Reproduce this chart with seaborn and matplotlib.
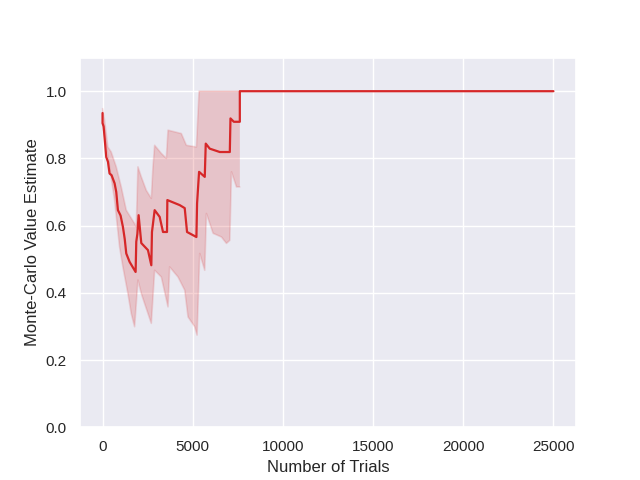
import numpy as np
import matplotlib
matplotlib.use('Agg')
import matplotlib.pyplot as plt
import seaborn as sns

# running Monte-Carlo estimate
trials = [0, 0, 60, 205, 300, 389, 500, 667, 760, 852, 1000, 1130, 1230, 1315, 1500,
          1833, 1870, 1930, 2000, 2148, 2518, 2704, 2740, 2889, 3167, 3352, 3574, 3593,
          4278, 4556, 4685, 5204, 5241, 5352, 5667, 5722, 5944, 6500, 7056, 7093, 7278,
          7611, 7611, 25000]
estimate = [0.935, 0.905, 0.895, 0.804, 0.790, 0.755, 0.750, 0.726, 0.700, 0.646, 0.630,
            0.596, 0.560, 0.517, 0.492, 0.462, 0.552, 0.575, 0.631, 0.548, 0.527, 0.482,
            0.581, 0.646, 0.626, 0.581, 0.581, 0.676, 0.661, 0.652, 0.581, 0.566, 0.666,
            0.760, 0.745, 0.844, 0.829, 0.819, 0.819, 0.919, 0.909, 0.909, 1.0, 1.0]

# upper edge of the band
up_x = [0, 111, 296, 481, 759, 1037, 1315, 1778, 1870, 1963, 2148, 2426, 2704, 2796,
        2889, 3259, 3537, 3630, 4370, 4648, 5204, 5352, 7611]
up_y = [0.948, 0.914, 0.834, 0.819, 0.775, 0.715, 0.646, 0.606, 0.596, 0.775, 0.745,
        0.705, 0.681, 0.775, 0.839, 0.815, 0.800, 0.884, 0.874, 0.839, 0.834, 1.0, 1.0]

# lower edge of the band
lo_x = [0, 389, 667, 944, 1130, 1407, 1593, 1778, 1963, 2148, 2333, 2704, 2889, 3259,
        3630, 3722, 4185, 4556, 4741, 5111, 5241, 5389, 5667, 5759, 6130, 6593, 6870,
        7056, 7148, 7426, 7611]
lo_y = [0.905, 0.775, 0.676, 0.537, 0.477, 0.398, 0.338, 0.299, 0.438, 0.398, 0.368,
        0.309, 0.467, 0.447, 0.358, 0.477, 0.447, 0.408, 0.328, 0.299, 0.274, 0.517,
        0.467, 0.636, 0.577, 0.566, 0.547, 0.556, 0.760, 0.715, 0.715]

sns.set_theme()
plt.rcParams['font.family'] = ['Liberation Sans', 'DejaVu Sans']
red = '#d62728'

fig, ax = plt.subplots(figsize=(6.4, 4.8), dpi=100)

# confidence band
ax.fill(np.concatenate([up_x, lo_x[::-1]]), np.concatenate([up_y, lo_y[::-1]]),
        color=red, alpha=0.2, lw=0)
ax.plot(up_x, up_y, color=red, alpha=0.15, lw=1.2)
ax.plot(lo_x, lo_y, color=red, alpha=0.15, lw=1.2)

sns.lineplot(x=trials, y=estimate, estimator=None, sort=False, color=red, lw=1.6, ax=ax)

ax.set_ylim(0, 1.1)
ax.set_xlabel('Number of Trials')
ax.set_ylabel('Monte-Carlo Value Estimate')

plt.savefig('out.png')
